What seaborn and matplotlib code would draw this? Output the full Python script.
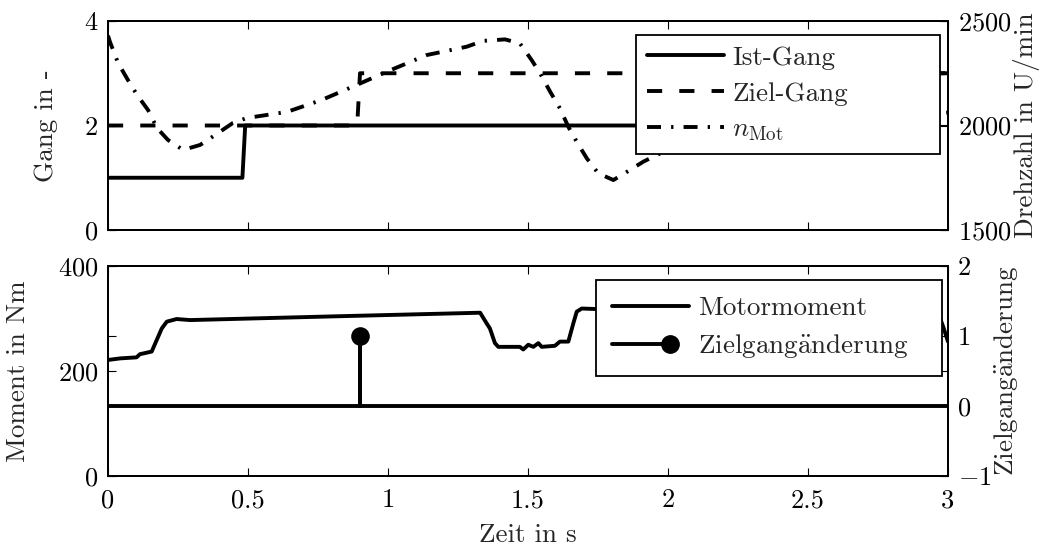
import matplotlib
matplotlib.use("Agg")
import matplotlib.pyplot as plt
import seaborn as sns
from matplotlib.lines import Line2D
from matplotlib.legend_handler import HandlerBase

# Actual and target gear over time
ist_t = [0.0, 0.48, 0.49, 1.91, 1.92, 3.0]
ist_gang = [1, 1, 2, 2, 3, 3]
ziel_t = [0.0, 0.89, 0.90, 3.0]
ziel_gang = [2, 2, 3, 3]

# Engine speed in rpm
n_t = [0.0, 0.007, 0.036, 0.071, 0.104, 0.143, 0.175, 0.214, 0.268, 0.329,
       0.382, 0.446, 0.496, 0.639, 0.763, 0.888, 0.995, 1.138, 1.281, 1.34,
       1.418, 1.471, 1.513, 1.543, 1.579, 1.614, 1.644, 1.674, 1.71, 1.751,
       1.805, 1.864, 1.912, 2.0, 2.2, 2.4, 2.6, 2.8, 2.95, 3.0]
n_mot = [2430, 2400, 2299, 2218, 2146, 2074, 1988, 1931, 1883, 1907,
         1954, 2012, 2036, 2065, 2122, 2194, 2257, 2337, 2377, 2405,
         2412, 2393, 2313, 2250, 2162, 2082, 1994, 1922, 1843, 1771,
         1739, 1787, 1827, 1885, 1950, 1995, 2025, 2045, 2058, 2062]

# Engine torque in Nm
m_t = [0.0, 0.043, 0.102, 0.114, 0.156, 0.174, 0.192, 0.21, 0.245, 0.293,
       0.8, 1.329, 1.352, 1.364, 1.382, 1.394, 1.471, 1.483, 1.501, 1.519,
       1.537, 1.549, 1.596, 1.614, 1.644, 1.662, 1.674, 1.692, 1.745, 2.3,
       2.96, 2.983, 3.0]
m_mot = [221, 224, 226, 232, 237, 259, 281, 294, 299, 297,
         304, 311, 291, 281, 253, 246, 246, 241, 250, 246,
         253, 246, 248, 256, 256, 291, 313, 319, 318, 318,
         318, 284, 256]

# Target gear change event (impulse)
zg_t = [0.0, 0.9, 0.9, 0.9, 3.0]
zg_val = [0, 0, 1, 0, 0]

x_ticks = [0, 0.5, 1, 1.5, 2, 2.5, 3]
x_ticklabels = ["0", "0.5", "1", "1.5", "2", "2.5", "3"]

sns.set_style("white")
plt.rcParams.update({
    "font.family": "serif",
    "font.serif": ["cmr10"],
    "mathtext.fontset": "cm",
    "axes.formatter.use_mathtext": True,
    "font.size": 19,
    "axes.linewidth": 1.4,
    "axes.edgecolor": "black",
})

LW = 2.8
FS_TICK = 19
FS_LAB = 19.5
FS_LEG = 19.5
ZIELG = r"$\mathrm{Zielgang\ddot{a}nderung}$"

fig = plt.figure(figsize=(10.49, 5.51), dpi=100)
W, H = 1049, 551
ax1 = fig.add_axes([108 / W, 1 - 230 / H, 840 / W, 209 / H])
ax2 = fig.add_axes([108 / W, 1 - 476 / H, 840 / W, 210 / H])
ax1r = ax1.twinx()
ax2r = ax2.twinx()

line_kw = dict(color="black", lw=LW, estimator=None, sort=False, legend=False)

# Upper panel: gears and engine speed
sns.lineplot(x=ist_t, y=ist_gang, ax=ax1, label="Ist-Gang", **line_kw)
sns.lineplot(x=ziel_t, y=ziel_gang, ax=ax1, label="Ziel-Gang",
             linestyle=(0, (3.9, 4.4)), **line_kw)
sns.lineplot(x=n_t, y=n_mot, ax=ax1r, label=r"$n_{\mathrm{Mot}}$",
             linestyle=(0, (3.6, 2.6, 0.6, 2.6)), **line_kw)

# Lower panel: torque and target gear change
sns.lineplot(x=m_t, y=m_mot, ax=ax2, label="Motormoment", **line_kw)
sns.lineplot(x=zg_t, y=zg_val, ax=ax2r, **line_kw)
ev_t = [t for t, v in zip(zg_t, zg_val) if v != 0]
ev_v = [v for v in zg_val if v != 0]
sns.scatterplot(x=ev_t, y=ev_v, ax=ax2r, color="black", s=180,
                edgecolor="black", linewidth=0, legend=False, zorder=5)

for ax in (ax1, ax2, ax1r, ax2r):
    ax.set_xlim(0, 3)
    ax.set_xticks(x_ticks)
    ax.tick_params(which="both", direction="in", length=6, width=0.8,
                   top=True, bottom=True, left=True, right=True,
                   pad=7, labelsize=FS_TICK, colors="black")
    ax.grid(False)
    for s in ax.spines.values():
        s.set_linewidth(1.4)
        s.set_color("black")

ax1.set_ylim(0, 4)
ax1.set_yticks([0, 2, 4])
ax1r.set_ylim(1500, 2500)
ax1r.set_yticks([1500, 2000, 2500])
ax2.set_ylim(0, 400)
ax2.set_yticks([0, 200, 400])
ax2r.set_ylim(-1, 2)
ax2r.set_yticks([-1, 0, 1, 2])
ax2r.set_yticklabels([r"$-1$", "0", "1", "2"])

for ax in (ax1, ax2):
    ax.tick_params(labelleft=True, labelright=False)
for ax in (ax1r, ax2r):
    ax.tick_params(labelleft=False, labelright=True)

ax1.tick_params(labelbottom=False)
ax1r.tick_params(labelbottom=False)
ax2.set_xticklabels(x_ticklabels)
ax2.tick_params(axis="x", pad=9)
ax2r.tick_params(labelbottom=False)
ax2.set_xlabel("Zeit in s", fontsize=FS_LAB, labelpad=8)

ax1.set_ylabel("Gang in -", fontsize=FS_LAB)
ax1.yaxis.set_label_coords(-0.060, 0.5)
ax2.set_ylabel("Moment in Nm", fontsize=FS_LAB)
ax2.yaxis.set_label_coords(-0.093, 0.5)
ax1r.set_ylabel("Drehzahl in U/min", fontsize=FS_LAB)
ax1r.yaxis.set_label_coords(1.077, 0.5)
ax2r.set_ylabel(ZIELG, fontsize=FS_LAB)
ax2r.yaxis.set_label_coords(1.052, 0.5)


class StemHandler(HandlerBase):
    """Legend key: a line ending in a filled circle."""

    def create_artists(self, legend, orig_handle, xdescent, ydescent,
                       width, height, fontsize, trans):
        y = height / 2 - ydescent
        x0 = -xdescent
        xm = x0 + 0.75 * width
        ln = Line2D([x0, xm], [y, y], color="black", lw=LW)
        mk = Line2D([xm], [y], marker="o", ms=12.5, color="black", lw=0)
        ln.set_transform(trans)
        mk.set_transform(trans)
        return [ln, mk]


leg_kw = dict(frameon=True, fancybox=False, framealpha=1, edgecolor="black",
              fontsize=FS_LEG, handlelength=2.85, handletextpad=0.3,
              labelspacing=0.44, loc="upper left", mode="expand",
              borderaxespad=0.0)

h1, l1 = ax1.get_legend_handles_labels()
h1r, l1r = ax1r.get_legend_handles_labels()
lg1 = ax1r.legend(h1 + h1r, l1 + l1r, borderpad=0.4,
                  bbox_to_anchor=(0.6286, 0.0, 0.362, 0.933), **leg_kw)
lg1.get_frame().set_linewidth(1.3)

h2, l2 = ax2.get_legend_handles_labels()
stem_handle = Line2D([], [], color="black", lw=LW, marker="o")
lg2 = ax2r.legend(h2 + [stem_handle], l2 + [ZIELG], borderpad=0.6,
                  handler_map={stem_handle: StemHandler()},
                  bbox_to_anchor=(0.581, 0.0, 0.412, 0.933), **leg_kw)
lg2.get_frame().set_linewidth(1.3)

fig.savefig("out.png", dpi=100)
